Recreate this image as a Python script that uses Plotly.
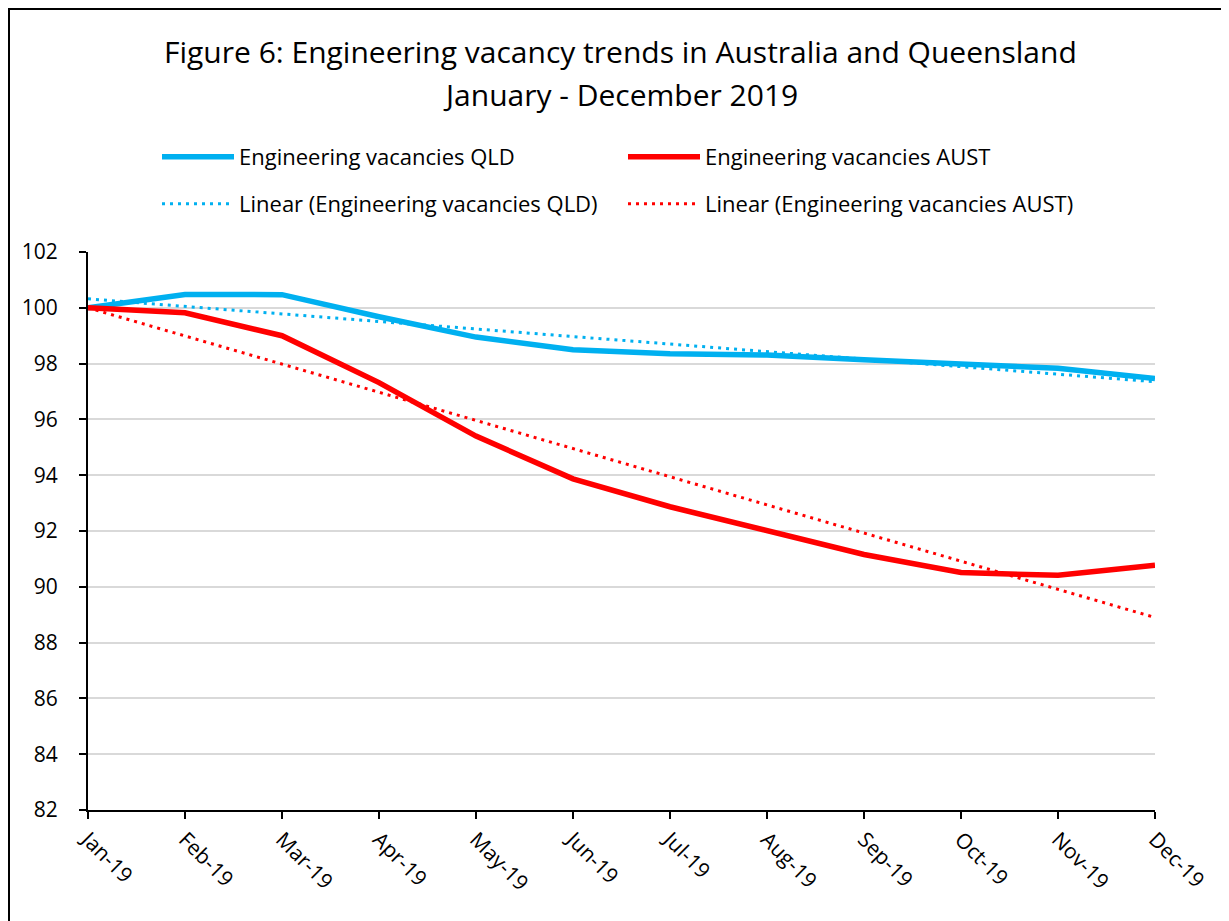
import plotly.graph_objects as go

months = ["Jan-19", "Feb-19", "Mar-19", "Apr-19", "May-19", "Jun-19",
          "Jul-19", "Aug-19", "Sep-19", "Oct-19", "Nov-19", "Dec-19"]
qld = [100.0, 100.48, 100.47, 99.68, 98.95, 98.5, 98.35, 98.31, 98.14, 97.97, 97.83, 97.47]
aust = [100.0, 99.82, 99.0, 97.32, 95.4, 93.87, 92.87, 92.04, 91.16, 90.51, 90.41, 90.77]
trend_x = ["Jan-19", "Dec-19"]
qld_trend = [100.32, 97.35]
aust_trend = [100.0, 88.9]
y_ticks = [82, 84, 86, 88, 90, 92, 94, 96, 98, 100, 102]

title1 = "Figure 6: Engineering vacancy trends in Australia and Queensland"
title2 = "January - December 2019"

BLUE = "#00B0F0"
RED = "#FF0000"
FONT = "Open Sans"

# page has an 8px body margin; work in page pixel coordinates
OFF = 8
W, H = 1229 - OFF, 921 - OFF
L, R, T, B = 88 - OFF, 1155 - OFF, 252 - OFF, 810 - OFF
pw = R - L
ph = B - T


def px_x(p):
    return (p - OFF - L) / pw


def px_y(p):
    return (B - (p - OFF)) / ph


fig = go.Figure()
fig.add_trace(go.Scatter(x=months, y=qld, mode="lines", name="Engineering vacancies QLD",
                         line=dict(color=BLUE, width=5.5), legend="legend"))
fig.add_trace(go.Scatter(x=months, y=aust, mode="lines", name="Engineering vacancies AUST",
                         line=dict(color=RED, width=5.5), legend="legend"))
fig.add_trace(go.Scatter(x=trend_x, y=qld_trend, mode="lines", name="Linear (Engineering vacancies QLD)",
                         line=dict(color=BLUE, width=3, dash="3px,5px"), legend="legend2"))
fig.add_trace(go.Scatter(x=trend_x, y=aust_trend, mode="lines", name="Linear (Engineering vacancies AUST)",
                         line=dict(color=RED, width=3, dash="3px,5px"), legend="legend2"))

legend_common = dict(orientation="h", xanchor="left", yanchor="middle",
                     entrywidth=379, entrywidthmode="pixels", itemwidth=72,
                     font=dict(family=FONT, size=22, color="#000000"),
                     bgcolor="rgba(0,0,0,0)", itemclick=False, itemdoubleclick=False)

fig.update_layout(
    width=W, height=H,
    margin=dict(l=L, r=W - R, t=T, b=H - B),
    paper_bgcolor="white", plot_bgcolor="white",
    font=dict(family=FONT, size=21, color="#000000"),
    showlegend=True,
    legend=dict(x=px_x(157), y=px_y(157), **legend_common),
    legend2=dict(x=px_x(157), y=px_y(204), **legend_common),
    xaxis=dict(
        type="category", categoryorder="array", categoryarray=months,
        range=[0, len(months) - 1],
        showgrid=False, showline=True, linecolor="#000000", linewidth=2,
        ticks="outside", ticklen=7, tickwidth=2, tickcolor="#000000",
        tickangle=45, tickfont=dict(family=FONT, size=21, color="#000000"),
        zeroline=False, fixedrange=True,
    ),
    yaxis=dict(
        range=[82, 102], tickvals=y_ticks, ticktext=[str(v) for v in y_ticks],
        showgrid=True, gridcolor="#D9D9D9", gridwidth=1.5,
        showline=True, linecolor="#000000", linewidth=2,
        ticks="outside", ticklen=7, tickwidth=2, tickcolor="#000000",
        ticklabelstandoff=17,
        tickfont=dict(family=FONT, size=21, color="#000000"),
        zeroline=False, fixedrange=True,
    ),
    annotations=[
        dict(text=title1, xref="paper", yref="paper", x=px_x(620), y=px_y(52),
             xanchor="center", yanchor="middle", showarrow=False,
             font=dict(family=FONT, size=30, color="#000000")),
        dict(text=title2, xref="paper", yref="paper", x=px_x(620), y=px_y(95),
             xanchor="center", yanchor="middle", showarrow=False,
             font=dict(family=FONT, size=30, color="#000000")),
    ],
    shapes=[
        dict(type="rect", xref="paper", yref="paper",
             x0=px_x(9), y0=px_y(H + 60), x1=px_x(W + 60), y1=px_y(9),
             line=dict(color="#000000", width=2), fillcolor="rgba(0,0,0,0)", layer="below"),
    ],
)

fig.write_html("out.html", config={"displayModeBar": False})
